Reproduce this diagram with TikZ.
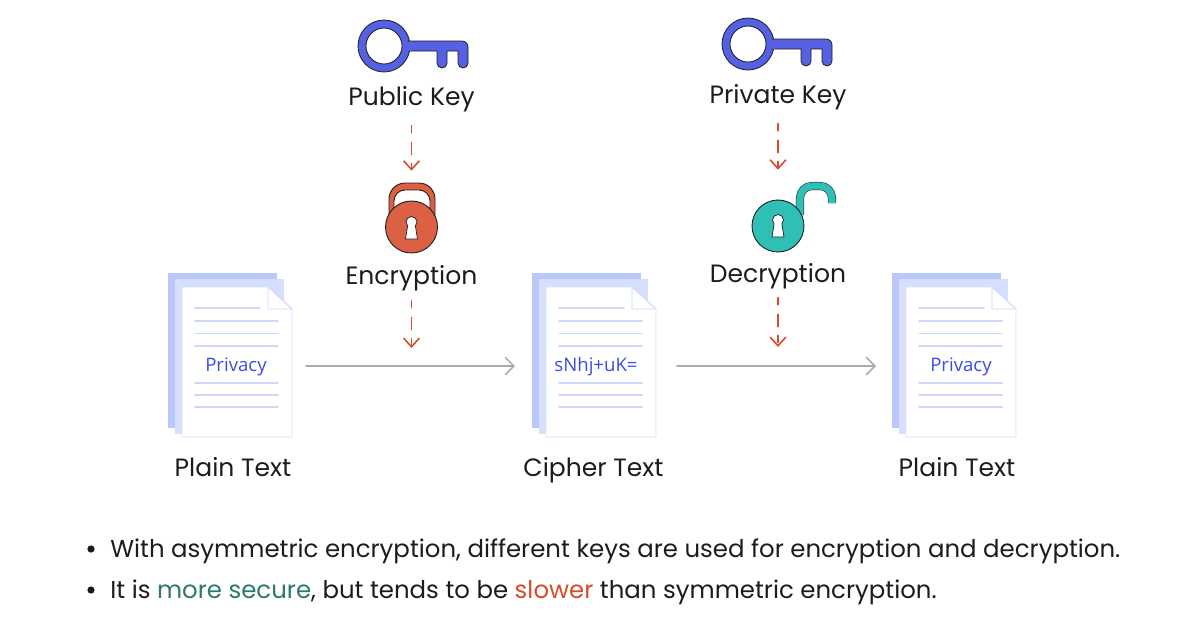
\documentclass[tikz,border=0pt]{standalone}
\usepackage{fontspec}
\setmainfont{Poppins}
\newfontfamily\docfont{Open Sans}
\usetikzlibrary{arrows.meta}
\definecolor{keyblue}{HTML}{5561E2}
\definecolor{lockred}{HTML}{DC6043}
\definecolor{lockteal}{HTML}{30BFB5}
\definecolor{arrowred}{HTML}{D64B2A}
\definecolor{flowgray}{HTML}{ABABAB}
\definecolor{inkblack}{HTML}{1C1C1C}
\definecolor{pageback}{HTML}{BAC7FB}
\definecolor{pagemid}{HTML}{D6DFFD}
\definecolor{pageline}{HTML}{CDD7FB}
\definecolor{docblue}{HTML}{3B4EE0}
\definecolor{wordgreen}{HTML}{2B7A6B}
\definecolor{wordred}{HTML}{D64B2A}
\tikzset{
	label/.style={font=\fontsize{14.25}{17}\selectfont, text=inkblack, text height=11pt, text depth=3pt, inner sep=0pt},
	bullet/.style={font=\fontsize{13.9}{17}\selectfont, text=inkblack, anchor=base west, inner sep=0pt},
	doctext/.style={font=\docfont\fontsize{10.6}{12}\selectfont, text=docblue, inner sep=0pt},
	flow/.style={draw=flowgray, line width=.9pt, -{Straight Barb[length=5pt,width=10pt]}},
	dashflow/.style={draw=arrowred, line width=.9pt, dash pattern=on 4pt off 5.5pt on 7pt off 5pt, -{Straight Barb[length=5pt,width=9pt]}},
	docpage/.pic={
		\fill[pageback] (0,0) rectangle (109,155);
		\fill[pagemid] (7,6) rectangle (116,161);
		\draw[pagemid, fill=white, line width=.5pt] (14,14)--(100,14)--(124,36)--(124,164)--(14,164)--cycle;
		\draw[pageline, fill=white, line width=.5pt] (100,14)--(100,36)--(124,36)--cycle;
		\draw[pageline, line width=.8pt] (27,35)--(92,35);
		\foreach \y in {48,60.5,73,110,122,134}\draw[pageline, line width=.8pt] (27,\y)--(110,\y);
	},
	keypic/.pic={
		\draw[inkblack, fill=keyblue, line width=.45pt, even odd rule]
		(0,0) circle (26) (0,0) circle (18);
		\draw[inkblack, fill=keyblue, line width=.45pt]
		(24,-5)--(78,-5) arc (-90:0:6)--(84,17) arc (0:180:5)--(74,5)--(63,5)--(63,17) arc (0:180:5)--(53,5)--(24,5);
		\fill[keyblue] (21,-4.5) rectangle (27,4.5);
	},
	keyhole/.pic={
		\draw[inkblack, fill=white, line width=.4pt] (-3.9,3.9)--(-6,17)--(6,17)--(3.9,3.9) arc (45:-225:5.5)--cycle;
	}
}
\begin{document}
\begin{tikzpicture}[x=.02cm, y=-.02cm, line join=round, line cap=round]
	\useasboundingbox (0,0) rectangle (1180,623);
	\path
	(306,366) coordinate (plainOut)
	(515,366) coordinate (cipherIn)
	(677,366) coordinate (cipherOut)
	(876,366) coordinate (plainIn)
	(411.5,348) coordinate (encEnd)
	(778,347) coordinate (decEnd);
	% the three sheets
	\foreach \n/\x in {docA/168,docB/532,docC/892}\path (\x,273) pic (\n) {docpage};
	\foreach \n/\x/\t in {textA/236/Privacy,textB/596/sNhj+uK=,textC/961/Privacy}\node[doctext] (\n) at (\x,366.5) {\t};
	\foreach \n/\x/\t in {labelA/233/Plain Text,labelB/593.5/Cipher Text,labelC/957/Plain Text}\node[label] (\n) at (\x,469) {\t};
	\draw[flow] (plainOut)--(cipherIn);
	\draw[flow] (cipherOut)--(plainIn);
	% keys
	\path (384,46) pic {keypic} (748,44) pic {keypic};
	\node[label] (pubKey) at (411.5,98) {Public Key};
	\node[label] (privKey) at (778,96) {Private Key};
	% closed lock
	\draw[inkblack, fill=lockred, line width=.5pt] (389,215)--(389,199) arc (180:270:16)--(419,183) arc (-90:0:16)--(435,215)--cycle;
	\draw[inkblack, fill=white, line width=.5pt] (394,208)--(394,201) arc (180:270:11)--(419,190) arc (-90:0:11)--(430,208)--cycle;
	\node[circle, draw=inkblack, fill=lockred, line width=.5pt, minimum size=1.04cm, inner sep=0pt] (lockA) at (411.5,227) {};
	\path (411.5,222) pic {keyhole};
	\node[label] (encLabel) at (411.5,277) {Encryption};
	% open lock
	\draw[inkblack, line width=4.6pt, line cap=butt] (800,215)--(800,198) arc (180:270:12)--(820,186) arc (-90:0:12)--(832,203);
	\draw[lockteal, line width=4pt, line cap=butt] (800,215)--(800,198) arc (180:270:12)--(820,186) arc (-90:0:12)--(832,203);
	\node[circle, draw=inkblack, fill=lockteal, line width=.5pt, minimum size=1.04cm, inner sep=0pt] (lockB) at (778,226) {};
	\path (778,220) pic {keyhole};
	\node[label] (decLabel) at (778,275) {Decryption};
	% dashed arrows
	\draw[dashflow, shorten <=8.5pt, shorten >=17pt] (pubKey.south)--(lockA.north);
	\draw[dashflow, shorten <=8.5pt, shorten >=17pt] (privKey.south)--(lockB.north);
	\draw[dashflow, shorten <=6.3pt] (encLabel.south)--(encEnd);
	\draw[dashflow, shorten <=5.7pt] (decLabel.south)--(decEnd);
	% notes
	\fill[inkblack] (91,549) circle (3.6) (91,590) circle (3.6);
	\node[bullet] (noteA) at (110,557) {With asymmetric encryption, different keys are used for encryption and decryption.};
	\node[bullet] (noteB) at (110,598) {It is \textcolor{wordgreen}{more secure}, but tends to be \textcolor{wordred}{slower} than symmetric encryption.};
\end{tikzpicture}
\end{document}
